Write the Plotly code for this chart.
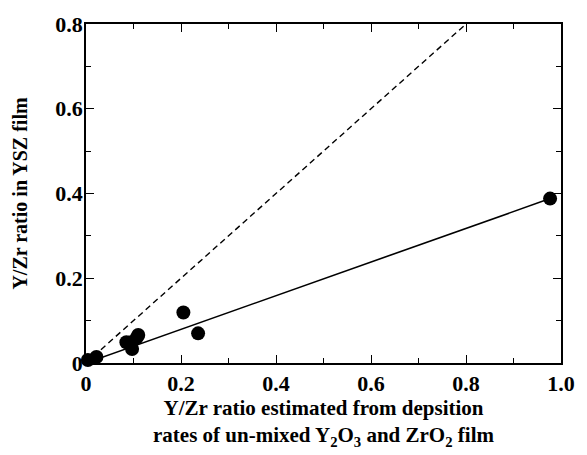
import plotly.graph_objects as go

# data
x_est = [0.004, 0.022, 0.085, 0.095, 0.097, 0.107, 0.110, 0.205, 0.236, 0.977]
y_film = [0.007, 0.014, 0.049, 0.049, 0.033, 0.060, 0.066, 0.119, 0.070, 0.388]
ideal_x = [0.0, 0.8]
ideal_y = [0.0, 0.8]
fit_x = [0.0, 0.977]
fit_y = [0.0, 0.388]

x_ticks = [0, 0.2, 0.4, 0.6, 0.8, 1.0]
x_ticktext = ["0", "0.2", "0.4", "0.6", "0.8", "1.0"]
y_ticks = [0, 0.2, 0.4, 0.6, 0.8]
y_ticktext = ["0", "0.2", "0.4", "0.6", "0.8"]

FONT = "Liberation Serif"

fig = go.Figure()
fig.add_trace(go.Scatter(x=ideal_x, y=ideal_y, mode="lines",
                         line=dict(color="black", width=1.4, dash="6px,4px"),
                         showlegend=False, hoverinfo="skip"))
fig.add_trace(go.Scatter(x=fit_x, y=fit_y, mode="lines",
                         line=dict(color="black", width=1.6),
                         showlegend=False, hoverinfo="skip"))
fig.add_trace(go.Scatter(x=x_est, y=y_film, mode="markers",
                         marker=dict(color="black", size=14),
                         showlegend=False, cliponaxis=False))

axis_common = dict(
    showgrid=False, zeroline=False, showline=True, linecolor="black",
    linewidth=1.5, mirror="allticks", ticks="inside", ticklen=8,
    tickwidth=1.2, tickcolor="black",
    tickfont=dict(family=FONT, size=22, color="black"),
    minor=dict(ticks="inside", ticklen=5, tickwidth=1, tickcolor="black", dtick=0.1),
)

fig.update_layout(
    width=587, height=455,
    margin=dict(l=86, r=15, t=19, b=92),
    paper_bgcolor="white", plot_bgcolor="white",
    font=dict(family=FONT, color="black"),
    xaxis=dict(range=[0, 1.0], tickvals=x_ticks,
               ticktext=["<b>%s</b>" % t for t in x_ticktext],
               title=dict(text="<b>Y/Zr ratio estimated from depsition<br>rates of un-mixed Y<sub>2</sub>O<sub>3</sub> and ZrO<sub>2</sub> film</b>",
                          font=dict(family=FONT, size=21, color="black"), standoff=4),
               **axis_common),
    yaxis=dict(range=[0, 0.8], tickvals=y_ticks,
               ticktext=["<b>%s</b>" % t for t in y_ticktext],
               ticklabelstandoff=-3,
               title=dict(text="<b>Y/Zr ratio in YSZ film</b>",
                          font=dict(family=FONT, size=20, color="black"), standoff=22),
               **axis_common),
)

fig.write_html("out.html")
